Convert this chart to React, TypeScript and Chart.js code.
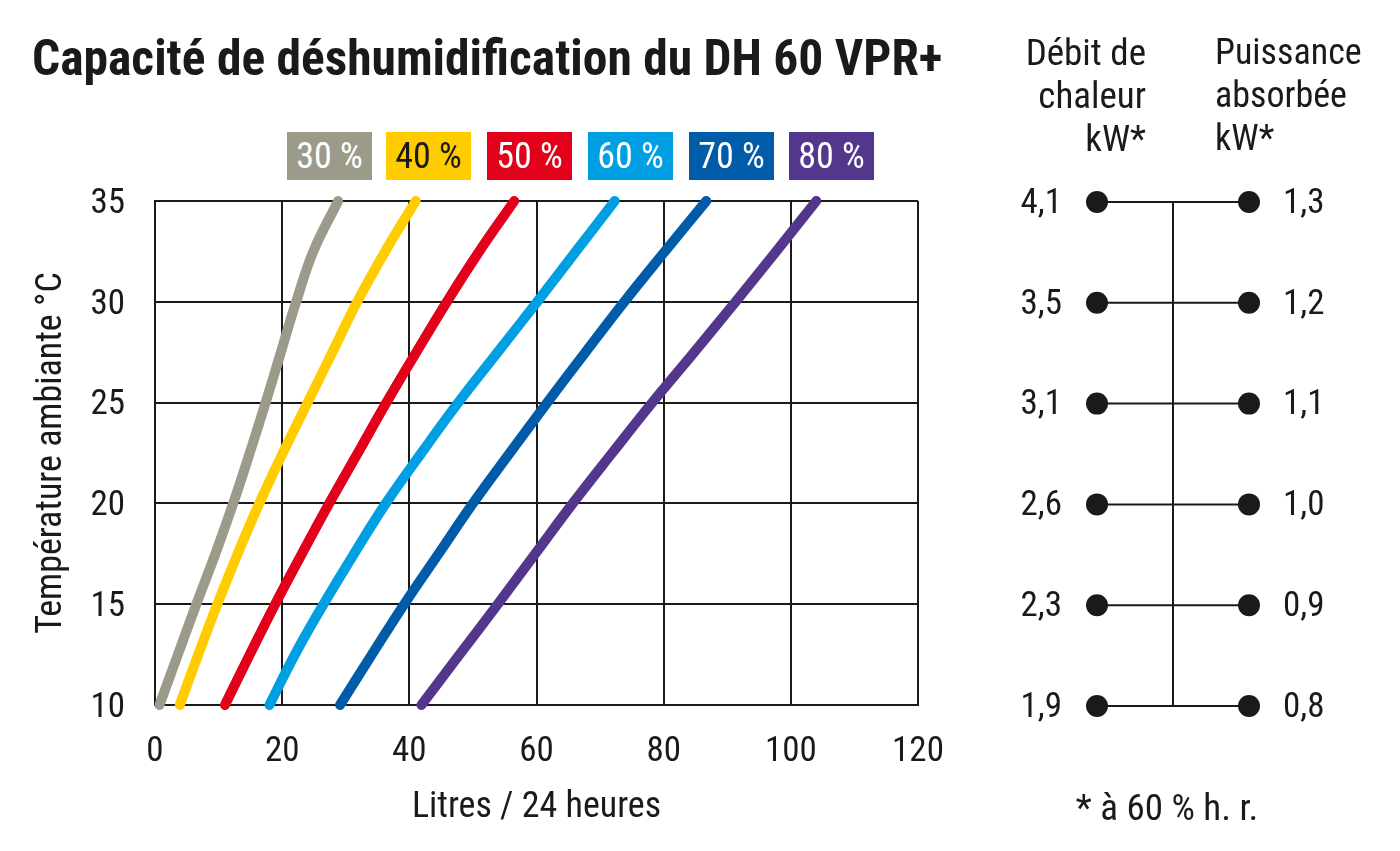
import React, { useEffect, useRef } from "react";
import { Chart, registerables } from "chart.js";

Chart.register(...registerables);

// ---------- data ----------
const TEMPS = [10, 12.5, 15, 17.5, 20, 22.5, 25, 27.5, 30, 32.5, 35];
const RH_LABELS = ["30 %", "40 %", "50 %", "60 %", "70 %", "80 %"];
const RH30 = [0.7, 3.6, 6.5, 9.5, 12.3, 14.9, 17.4, 19.8, 22.2, 24.9, 28.8];
const RH40 = [3.9, 6.8, 9.8, 13.0, 16.4, 20.1, 24.0, 27.9, 31.8, 36.2, 41.0];
const RH50 = [11.0, 14.9, 18.9, 23.1, 27.4, 31.9, 36.4, 41.1, 45.9, 51.0, 56.5];
const RH60 = [18.0, 22.0, 26.5, 31.3, 36.3, 41.9, 47.7, 53.9, 60.1, 66.2, 72.3];
const RH70 = [29.1, 34.1, 39.2, 44.6, 50.0, 55.8, 61.7, 67.7, 73.8, 80.2, 86.7];
const RH80 = [41.9, 47.9, 53.9, 59.8, 65.7, 71.9, 78.2, 84.8, 91.3, 97.7, 104.0];
const SERIES = [RH30, RH40, RH50, RH60, RH70, RH80];
const COLORS = ["#9c9b8a", "#ffcc00", "#e2001a", "#009fe3", "#005ca9", "#52378c"];
const LEGEND_TEXT = ["#ffffff", "#1a1a1a", "#ffffff", "#ffffff", "#ffffff", "#ffffff"];

const X_MIN = 0;
const X_MAX = 120;
const X_STEP = 20;
const Y_MIN = 10;
const Y_MAX = 35;
const Y_STEP = 5;

const KW_TEMPS = [10, 15, 20, 25, 30, 35];
const HEAT_KW = [1.9, 2.3, 2.6, 3.1, 3.5, 4.1];
const POWER_KW = [0.8, 0.9, 1.0, 1.1, 1.2, 1.3];

const TITLE = "Capacité de déshumidification du DH 60 VPR+";
const X_TITLE = "Litres / 24 heures";
const Y_TITLE = "Température ambiante °C";
const HEAT_HEAD = ["Débit de", "chaleur", "kW*"];
const POWER_HEAD = ["Puissance", "absorbée", "kW*"];
const FOOTNOTE = "* à 60 % h. r.";

const FONT = '"Roboto Condensed", "Liberation Sans Narrow", "DejaVu Sans Condensed", sans-serif';
const INK = "#1a1a1a";

const fmt = (v: number) => v.toFixed(1).replace(".", ",");

export default function App() {
  const mainRef = useRef<HTMLCanvasElement | null>(null);
  const sideRef = useRef<HTMLCanvasElement | null>(null);

  useEffect(() => {
    Chart.defaults.font.family = FONT;
    Chart.defaults.color = INK;

    const main = new Chart(mainRef.current!, {
      type: "scatter",
      data: {
        datasets: SERIES.map((s, i) => ({
          label: RH_LABELS[i],
          data: s.map((x, j) => ({ x, y: TEMPS[j] })),
          showLine: true,
          borderColor: COLORS[i],
          backgroundColor: COLORS[i],
          borderWidth: 10,
          borderCapStyle: "round" as const,
          borderJoinStyle: "round" as const,
          pointRadius: 0,
          tension: 0.4,
          clip: false as any,
        })),
      },
      options: {
        responsive: false,
        animation: false,
        events: [],
        layout: { padding: { left: 0, top: 201, right: 482, bottom: 0 } },
        plugins: { legend: { display: false }, tooltip: { enabled: false } },
        scales: {
          x: {
            type: "linear",
            min: X_MIN,
            max: X_MAX,
            ticks: { stepSize: X_STEP, padding: 26, font: { size: 35 }, color: INK },
            grid: { color: INK, lineWidth: 2, drawTicks: false },
            border: { color: INK, width: 2 },
            title: {
              display: true,
              text: X_TITLE,
              font: { size: 36 },
              color: INK,
              padding: { top: 0, bottom: 21 },
            },
            afterFit: (s: any) => {
              s.height = 146;
            },
          },
          y: {
            type: "linear",
            min: Y_MIN,
            max: Y_MAX,
            ticks: { stepSize: Y_STEP, padding: 30, labelOffset: 3, font: { size: 35 }, color: INK },
            grid: { color: INK, lineWidth: 2, drawTicks: false },
            border: { color: INK, width: 2 },
            title: {
              display: true,
              text: Y_TITLE,
              font: { size: 36 },
              color: INK,
              padding: { top: 30, bottom: 0 },
            },
            afterFit: (s: any) => {
              s.width = 155;
            },
          },
        },
      } as any,
    });

    const sideSets: any[] = KW_TEMPS.map((t) => ({
      data: [
        { x: 0, y: t },
        { x: 2, y: t },
      ],
      showLine: true,
      borderColor: INK,
      borderWidth: 2,
      pointRadius: 11,
      pointBackgroundColor: INK,
      pointBorderColor: INK,
      pointBorderWidth: 0,
      clip: false,
    }));
    sideSets.push({
      data: [
        { x: 1, y: KW_TEMPS[0] },
        { x: 1, y: KW_TEMPS[KW_TEMPS.length - 1] },
      ],
      showLine: true,
      borderColor: INK,
      borderWidth: 2,
      pointRadius: 0,
      clip: false,
    });

    const side = new Chart(sideRef.current!, {
      type: "scatter",
      data: { datasets: sideSets },
      options: {
        responsive: false,
        animation: false,
        events: [],
        layout: { padding: { left: 1000, top: 202, right: 0, bottom: 145 } },
        plugins: { legend: { display: false }, tooltip: { enabled: false } },
        scales: {
          x: { type: "linear", min: 0, max: 2, display: false },
          y: {
            type: "linear",
            position: "left",
            min: Y_MIN,
            max: Y_MAX,
            ticks: {
              stepSize: Y_STEP,
              padding: 35,
              labelOffset: 2,
              font: { size: 35 },
              color: INK,
              callback: (v: any) => {
                const i = KW_TEMPS.indexOf(Number(v));
                return i >= 0 ? fmt(HEAT_KW[i]) : "";
              },
            },
            grid: { display: false, drawTicks: false },
            border: { display: false },
            afterFit: (s: any) => {
              s.width = 97;
            },
          },
          y2: {
            type: "linear",
            position: "right",
            min: Y_MIN,
            max: Y_MAX,
            ticks: {
              stepSize: Y_STEP,
              padding: 34,
              labelOffset: 2,
              font: { size: 35 },
              color: INK,
              callback: (v: any) => {
                const i = KW_TEMPS.indexOf(Number(v));
                return i >= 0 ? fmt(POWER_KW[i]) : "";
              },
            },
            grid: { display: false, drawTicks: false },
            border: { display: false },
            afterFit: (s: any) => {
              s.width = 151;
            },
          },
        },
      } as any,
    });

    return () => {
      main.destroy();
      side.destroy();
    };
  }, []);

  const legendLeft = [287, 386, 487, 588, 689, 789];

  return (
    <div
      style={{
        position: "absolute",
        left: 0,
        top: 0,
        width: 1400,
        height: 851,
        background: "#ffffff",
        overflow: "hidden",
        fontFamily: FONT,
        color: INK,
      }}
    >
      <canvas ref={mainRef} width={1400} height={851} style={{ position: "absolute", left: 0, top: 0 }} />
      <canvas ref={sideRef} width={1400} height={851} style={{ position: "absolute", left: 0, top: 0 }} />
      <div
        style={{
          position: "absolute",
          left: 32,
          top: 28,
          fontSize: 49.5,
          fontWeight: 700,
          lineHeight: "60px",
          whiteSpace: "nowrap",
        }}
      >
        {TITLE}
      </div>
      {RH_LABELS.map((l, i) => (
        <div
          key={l}
          style={{
            position: "absolute",
            left: legendLeft[i],
            top: 132,
            width: 85,
            height: 48,
            background: COLORS[i],
            color: LEGEND_TEXT[i],
            fontSize: 36,
            lineHeight: "48px",
            textAlign: "center",
            whiteSpace: "nowrap",
          }}
        >
          {l}
        </div>
      ))}
      <div
        style={{
          position: "absolute",
          left: 966,
          top: 31,
          width: 180,
          textAlign: "right",
          fontSize: 37,
          lineHeight: "43px",
        }}
      >
        {HEAT_HEAD.map((t) => (
          <div key={t} style={{ whiteSpace: "nowrap" }}>
            {t}
          </div>
        ))}
      </div>
      <div
        style={{
          position: "absolute",
          left: 1215,
          top: 31,
          width: 180,
          textAlign: "left",
          fontSize: 36,
          lineHeight: "43px",
        }}
      >
        {POWER_HEAD.map((t) => (
          <div key={t} style={{ whiteSpace: "nowrap" }}>
            {t}
          </div>
        ))}
      </div>
      <div
        style={{
          position: "absolute",
          left: 1067,
          top: 787,
          width: 200,
          textAlign: "center",
          fontSize: 37,
          lineHeight: "42px",
          whiteSpace: "nowrap",
        }}
      >
        {FOOTNOTE}
      </div>
    </div>
  );
}
